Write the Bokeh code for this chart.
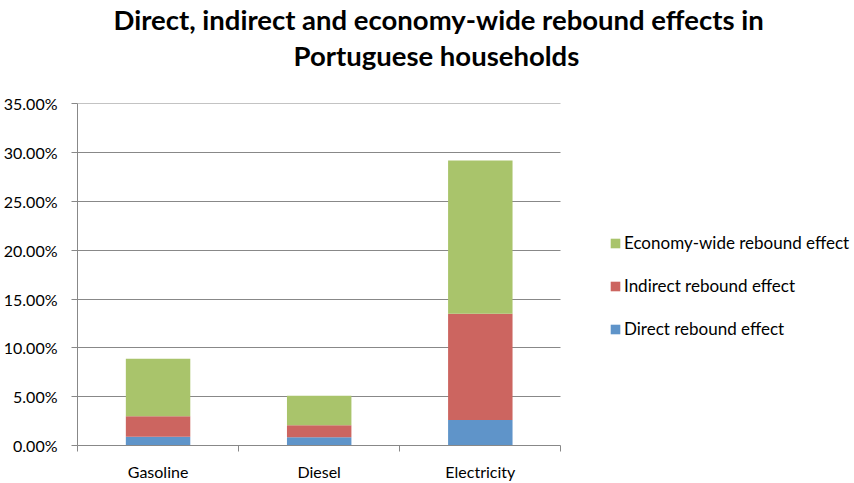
from bokeh.plotting import figure
from bokeh.models import (ColumnDataSource, FixedTicker, PrintfTickFormatter, Legend,
                          LegendItem, Title, Range1d)
from bokeh.embed import file_html
from bokeh.resources import INLINE

categories = ["Gasoline", "Diesel", "Electricity"]
direct = [0.89, 0.85, 2.60]
indirect = [2.11, 1.23, 10.90]
economy_wide = [5.90, 3.01, 15.70]
series_names = ["Direct rebound effect", "Indirect rebound effect", "Economy-wide rebound effect"]
colors = ["#5F94C9", "#CC6560", "#A9C46B"]
y_ticks = [0, 5, 10, 15, 20, 25, 30, 35]

FONT = "Lato"
n = len(categories)
xs = [i + 0.5 for i in range(n)]
src = ColumnDataSource(dict(x=xs, direct=direct, indirect=indirect, economy=economy_wide))

# frame spans to the right edge so that the legend (inside the frame) is not clipped;
# the plotted area itself occupies the first 484 px of the 778 px wide frame
FRAME_W, PLOT_W = 778, 484
p = figure(width=854, height=483, output_backend="svg", toolbar_location=None,
           x_range=Range1d(0, n * FRAME_W / PLOT_W), y_range=Range1d(0, 35.04),
           min_border_left=76, min_border_right=0, min_border_top=60, min_border_bottom=36)
p.outline_line_color = None
p.background_fill_color = "white"
p.border_fill_color = "white"

renderers = p.vbar_stack(["direct", "indirect", "economy"], x="x", width=0.4, source=src,
                         color=colors, line_color=None)


def make_title(text, offset, size, standoff, font_style="bold"):
    kw = dict(text=text, align="left", offset=offset, text_font=FONT, text_font_size=size,
              text_font_style=font_style, text_color="black")
    try:
        return Title(standoff=standoff, **kw)
    except AttributeError:
        return Title(**kw)


# titles (two lines) plus a spacer
p.add_layout(make_title(" ", 0, "21px", 3, "normal"), "above")
p.add_layout(make_title("Portuguese households", 216, "27.5px", 3), "above")
p.add_layout(make_title("Direct, indirect and economy-wide rebound effects in", 36, "27.5px", 0), "above")

# y axis
p.yaxis.ticker = FixedTicker(ticks=y_ticks)
p.yaxis.formatter = PrintfTickFormatter(format="%.2f%%")
p.yaxis.axis_line_color = "#888888"
p.yaxis.major_tick_line_color = "#888888"
p.yaxis.major_tick_out = 6
p.yaxis.major_tick_in = 0
p.yaxis.minor_tick_line_color = None
p.yaxis.major_label_text_font = FONT
p.yaxis.major_label_text_font_size = "16px"
p.yaxis.major_label_text_color = "black"
p.yaxis.major_label_standoff = 14
p.ygrid.grid_line_color = "#888888"
p.ygrid.grid_line_width = 1
try:
    p.ygrid.cross_bounds = (0, n)
except AttributeError:
    pass

# x axis: labels at centres, tick marks between categories
p.xaxis.bounds = (0, n)
p.xaxis.ticker = FixedTicker(ticks=xs, minor_ticks=list(range(n + 1)))
p.xaxis.major_label_overrides = {x: c for x, c in zip(xs, categories)}
p.xaxis.axis_line_color = "#888888"
p.xaxis.major_tick_line_color = None
p.xaxis.minor_tick_line_color = "#888888"
p.xaxis.minor_tick_out = 6
p.xaxis.minor_tick_in = 0
p.xaxis.major_label_text_font = FONT
p.xaxis.major_label_text_font_size = "16px"
p.xaxis.major_label_text_color = "black"
p.xaxis.major_label_standoff = 10
p.xgrid.grid_line_color = None

items = [LegendItem(label=series_names[i], renderers=[renderers[i]]) for i in (2, 1, 0)]
legend = Legend(items=items, location=(532, 106), orientation="vertical",
                glyph_width=12, glyph_height=12, label_height=21, spacing=22,
                padding=0, margin=0, border_line_color=None, background_fill_alpha=0,
                label_text_font=FONT, label_text_font_size="17px", label_text_color="black",
                label_standoff=3)
p.add_layout(legend, "center")

open("out.html", "w").write(file_html(p, INLINE))
